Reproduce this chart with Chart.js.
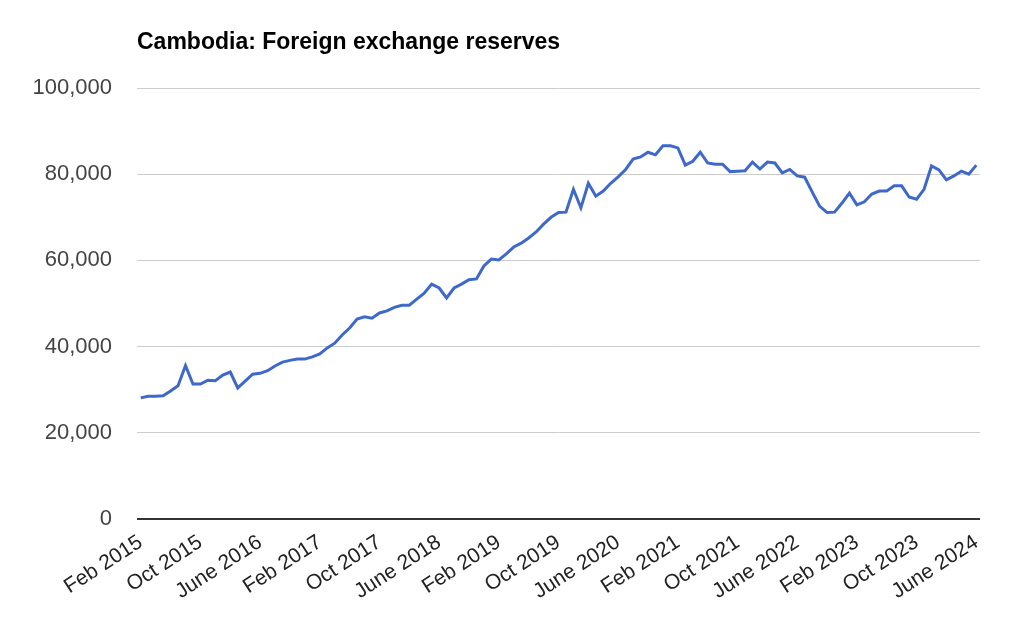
<!DOCTYPE html>
<html>
<head>
<meta charset="utf-8">
<title>Cambodia: Foreign exchange reserves</title>
<script src="https://cdn.jsdelivr.net/npm/chart.js@4.4.1/dist/chart.umd.min.js"></script>
<style>
    html, body { margin: 0; padding: 0; background: #fff; }
    #wrap { position: relative; width: 1024px; height: 635px; }
</style>
</head>
<body>
<div id="wrap"><canvas id="reserves-chart"></canvas></div>
<script>
var chartTitle = 'Cambodia: Foreign exchange reserves';
var monthNames = ['Jan', 'Feb', 'Mar', 'Apr', 'May', 'June', 'July', 'Aug', 'Sept', 'Oct', 'Nov', 'Dec'];
var firstYear = 2015;
var firstMonth = 1; // Feb
var yTicks = [0, 20000, 40000, 60000, 80000, 100000];

// monthly reserves, Feb 2015 .. June 2024
var reserves = [
    28100, 28500, 28500, 28600, 29700, 30900, 35600, 31300, 31300, 32200, 32100, 33400,
    34100, 30400, 32000, 33600, 33800, 34400, 35500, 36400, 36800, 37100, 37100, 37600,
    38300, 39700, 40800, 42700, 44300, 46400, 46900, 46600, 47800, 48300, 49100, 49600,
    49600, 51000, 52400, 54500, 53600, 51300, 53600, 54500, 55500, 55700, 58700, 60300,
    60100, 61500, 63100, 64000, 65200, 66600, 68400, 70000, 71100, 71200, 76500, 72200,
    77900, 74900, 76100, 77900, 79400, 81100, 83500, 84000, 85100, 84500, 86600, 86600,
    86100, 82100, 83000, 85100, 82600, 82300, 82300, 80600, 80700, 80800, 82800, 81200,
    82800, 82600, 80300, 81100, 79600, 79300, 75900, 72600, 71100, 71200, 73300, 75600,
    72900, 73600, 75400, 76100, 76100, 77300, 77300, 74700, 74200, 76500, 81900, 81000,
    78700, 79600, 80700, 80000, 82100
];

var labels = [];
for (var i = 0; i < reserves.length; i++) {
    var m = (firstMonth + i) % 12;
    var y = firstYear + Math.floor((firstMonth + i) / 12);
    labels.push(monthNames[m] + ' ' + y);
}

// title sits over the plot's left edge, like the original
var titlePlugin = {
    id: 'leftTitle',
    afterDraw: function (chart) {
        var ctx = chart.ctx;
        ctx.save();
        ctx.font = 'bold 23px "Liberation Sans", Arial, sans-serif';
        ctx.fillStyle = '#000';
        ctx.textAlign = 'left';
        ctx.textBaseline = 'alphabetic';
        ctx.fillText(chartTitle, chart.chartArea.left, 49);
        ctx.restore();
    }
};

var config = {
    type: 'line',
    data: {
        labels: labels,
        datasets: [{
            data: reserves,
            borderColor: '#3e69cb',
            borderWidth: 3,
            pointRadius: 0,
            tension: 0,
            fill: false
        }]
    },
    options: {
        responsive: true,
        maintainAspectRatio: false,
        animation: false,
        layout: {
            padding: {top: 88, right: 44, bottom: 0, left: 0}
        },
        plugins: {
            legend: {display: false},
            title: {display: false},
            tooltip: {enabled: false}
        },
        scales: {
            x: {
                offset: true,
                grid: {display: false, drawTicks: false},
                border: {display: false},
                ticks: {
                    autoSkip: false,
                    minRotation: 33,
                    maxRotation: 33,
                    padding: 11,
                    color: '#222',
                    font: {family: '"Liberation Sans", Arial, sans-serif', size: 21},
                    callback: function (val, idx) {
                        return idx % 8 === 0 ? labels[idx] : null;
                    }
                },
                afterFit: function (scale) {
                    scale.height = 116;
                }
            },
            y: {
                min: 0,
                max: 100000,
                afterBuildTicks: function (scale) {
                    scale.ticks = yTicks.map(function (v) { return {value: v}; });
                },
                grid: {
                    drawTicks: false,
                    color: function (c) { return c.tick && c.tick.value === 0 ? '#333' : '#cccccc'; },
                    lineWidth: function (c) { return c.tick && c.tick.value === 0 ? 2 : 1; }
                },
                border: {display: false},
                ticks: {
                    padding: 25,
                    color: '#444',
                    font: {family: '"Liberation Sans", Arial, sans-serif', size: 22},
                    callback: function (v) {
                        return v.toLocaleString('en-US');
                    }
                },
                afterFit: function (scale) {
                    scale.width = 137;
                }
            }
        }
    },
    plugins: [titlePlugin]
};

var myLine = new Chart(document.getElementById('reserves-chart').getContext('2d'), config);
</script>
</body>
</html>
